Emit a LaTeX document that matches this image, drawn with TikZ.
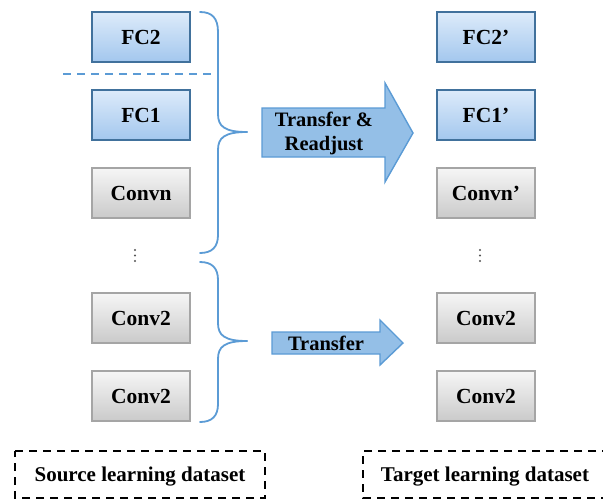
\documentclass[tikz,border=0pt]{standalone}
\usepackage{fontspec}
\setmainfont{Liberation Serif}
\definecolor{blueTop}{HTML}{DDEBFA}
\definecolor{blueBot}{HTML}{A3C7EE}
\definecolor{blueEdge}{HTML}{41719C}
\definecolor{grayTop}{HTML}{F6F6F6}
\definecolor{grayBot}{HTML}{CACACA}
\definecolor{grayEdge}{HTML}{A5A5A5}
\definecolor{braceBlue}{HTML}{5B9BD5}
\definecolor{arrowFill}{HTML}{94BFE7}
\definecolor{arrowEdge}{HTML}{5B9BD5}
\definecolor{dotGray}{HTML}{555555}
\tikzset{
  layer/.style={minimum width=98pt, minimum height=50pt, inner sep=0pt,
    font=\fontsize{21.5}{23}\selectfont\bfseries, line width=1.6pt},
  fcbox/.style={layer, draw=blueEdge, top color=blueTop, bottom color=blueBot},
  convbox/.style={layer, draw=grayEdge, top color=grayTop, bottom color=grayBot},
  bracepath/.style={draw=braceBlue, line width=1.8pt, line cap=round},
  bigarrow/.style={draw=arrowEdge, fill=arrowFill, line width=1.4pt, line join=miter},
  arrowtext/.style={font=\fontsize{20.5}{23}\selectfont\bfseries, align=center, inner sep=0pt},
  datasetbox/.style={draw=black, line width=1.8pt, dash pattern=on 8pt off 6pt},
  datasettext/.style={font=\fontsize{21}{23}\selectfont\bfseries, inner sep=0pt},
  ellipdot/.style={fill=dotGray}
}
\begin{document}
\begin{tikzpicture}[x=1pt, y=-1pt]
\useasboundingbox (0,0) rectangle (603,499);
\fill[white] (0,0) rectangle (603,499);

% source network
\node[fcbox]   (fc2)  at (141,37)  {FC2};
\node[fcbox]   (fc1)  at (141,115) {FC1};
\node[convbox] (cn)   at (141,193) {Convn};
\node[convbox] (c2a)  at (141,318) {Conv2};
\node[convbox] (c2b)  at (141,396) {Conv2};

% target network
\node[fcbox]   (tfc2) at (486,37)  {FC2’};
\node[fcbox]   (tfc1) at (486,115) {FC1’};
\node[convbox] (tcn)  at (486,193) {Convn’};
\node[convbox] (tc2a) at (486,318) {Conv2};
\node[convbox] (tc2b) at (486,396) {Conv2};

% omitted layers
\foreach \yy in {250,255.5,261} {
  \fill[ellipdot] (135,\yy) circle (1.1);
  \fill[ellipdot] (480,\yy) circle (1.1);
}

% split between the classifier layers
\coordinate (dl) at (63,74);
\coordinate (dr) at (215,74);
\draw[braceBlue, line width=1.8pt, dash pattern=on 8pt off 6pt] (dl) -- (dr);

% brace over the layers that are readjusted
\coordinate (b1top) at (200,12);
\coordinate (b1tip) at (247,132);
\coordinate (b1bot) at (200,253);
\draw[bracepath] (b1top) .. controls (212,12) and (218,18) .. (218,32)
  -- (218,114) .. controls (218,126) and (224,132) .. (b1tip);
\draw[bracepath] (b1tip) .. controls (224,132) and (218,138) .. (218,150)
  -- (218,235) .. controls (218,247) and (212,253) .. (b1bot);

% brace over the layers that are only transferred
\coordinate (b2top) at (200,262);
\coordinate (b2tip) at (247,341);
\coordinate (b2bot) at (200,422);
\draw[bracepath] (b2top) .. controls (212,262) and (218,268) .. (218,280)
  -- (218,323) .. controls (218,335) and (224,341) .. (b2tip);
\draw[bracepath] (b2tip) .. controls (224,341) and (218,347) .. (218,359)
  -- (218,404) .. controls (218,416) and (212,422) .. (b2bot);

% block arrows
\draw[bigarrow] (262,108) -- (385,108) -- (385,83) -- (413,133) -- (385,182)
  -- (385,157) -- (262,157) -- cycle;
\node[arrowtext] (a1) at (324,133) {Transfer \&\\[1pt]Readjust};

\draw[bigarrow] (272,332) -- (380,332) -- (380,320) -- (403,343) -- (380,365)
  -- (380,354) -- (272,354) -- cycle;
\node[arrowtext] (a2) at (326,343) {Transfer};

% dataset frames
\draw[datasetbox] (15,451) -- (265,451) -- (265,498) -- (15,498) -- cycle;
\node[datasettext] (src) at (140,477) {Source learning dataset};
\draw[datasetbox] (610,451) -- (363,451) -- (363,498) -- (610,498);
\node[datasettext] (tgt) at (485,477) {Target learning dataset};
\end{tikzpicture}
\end{document}
